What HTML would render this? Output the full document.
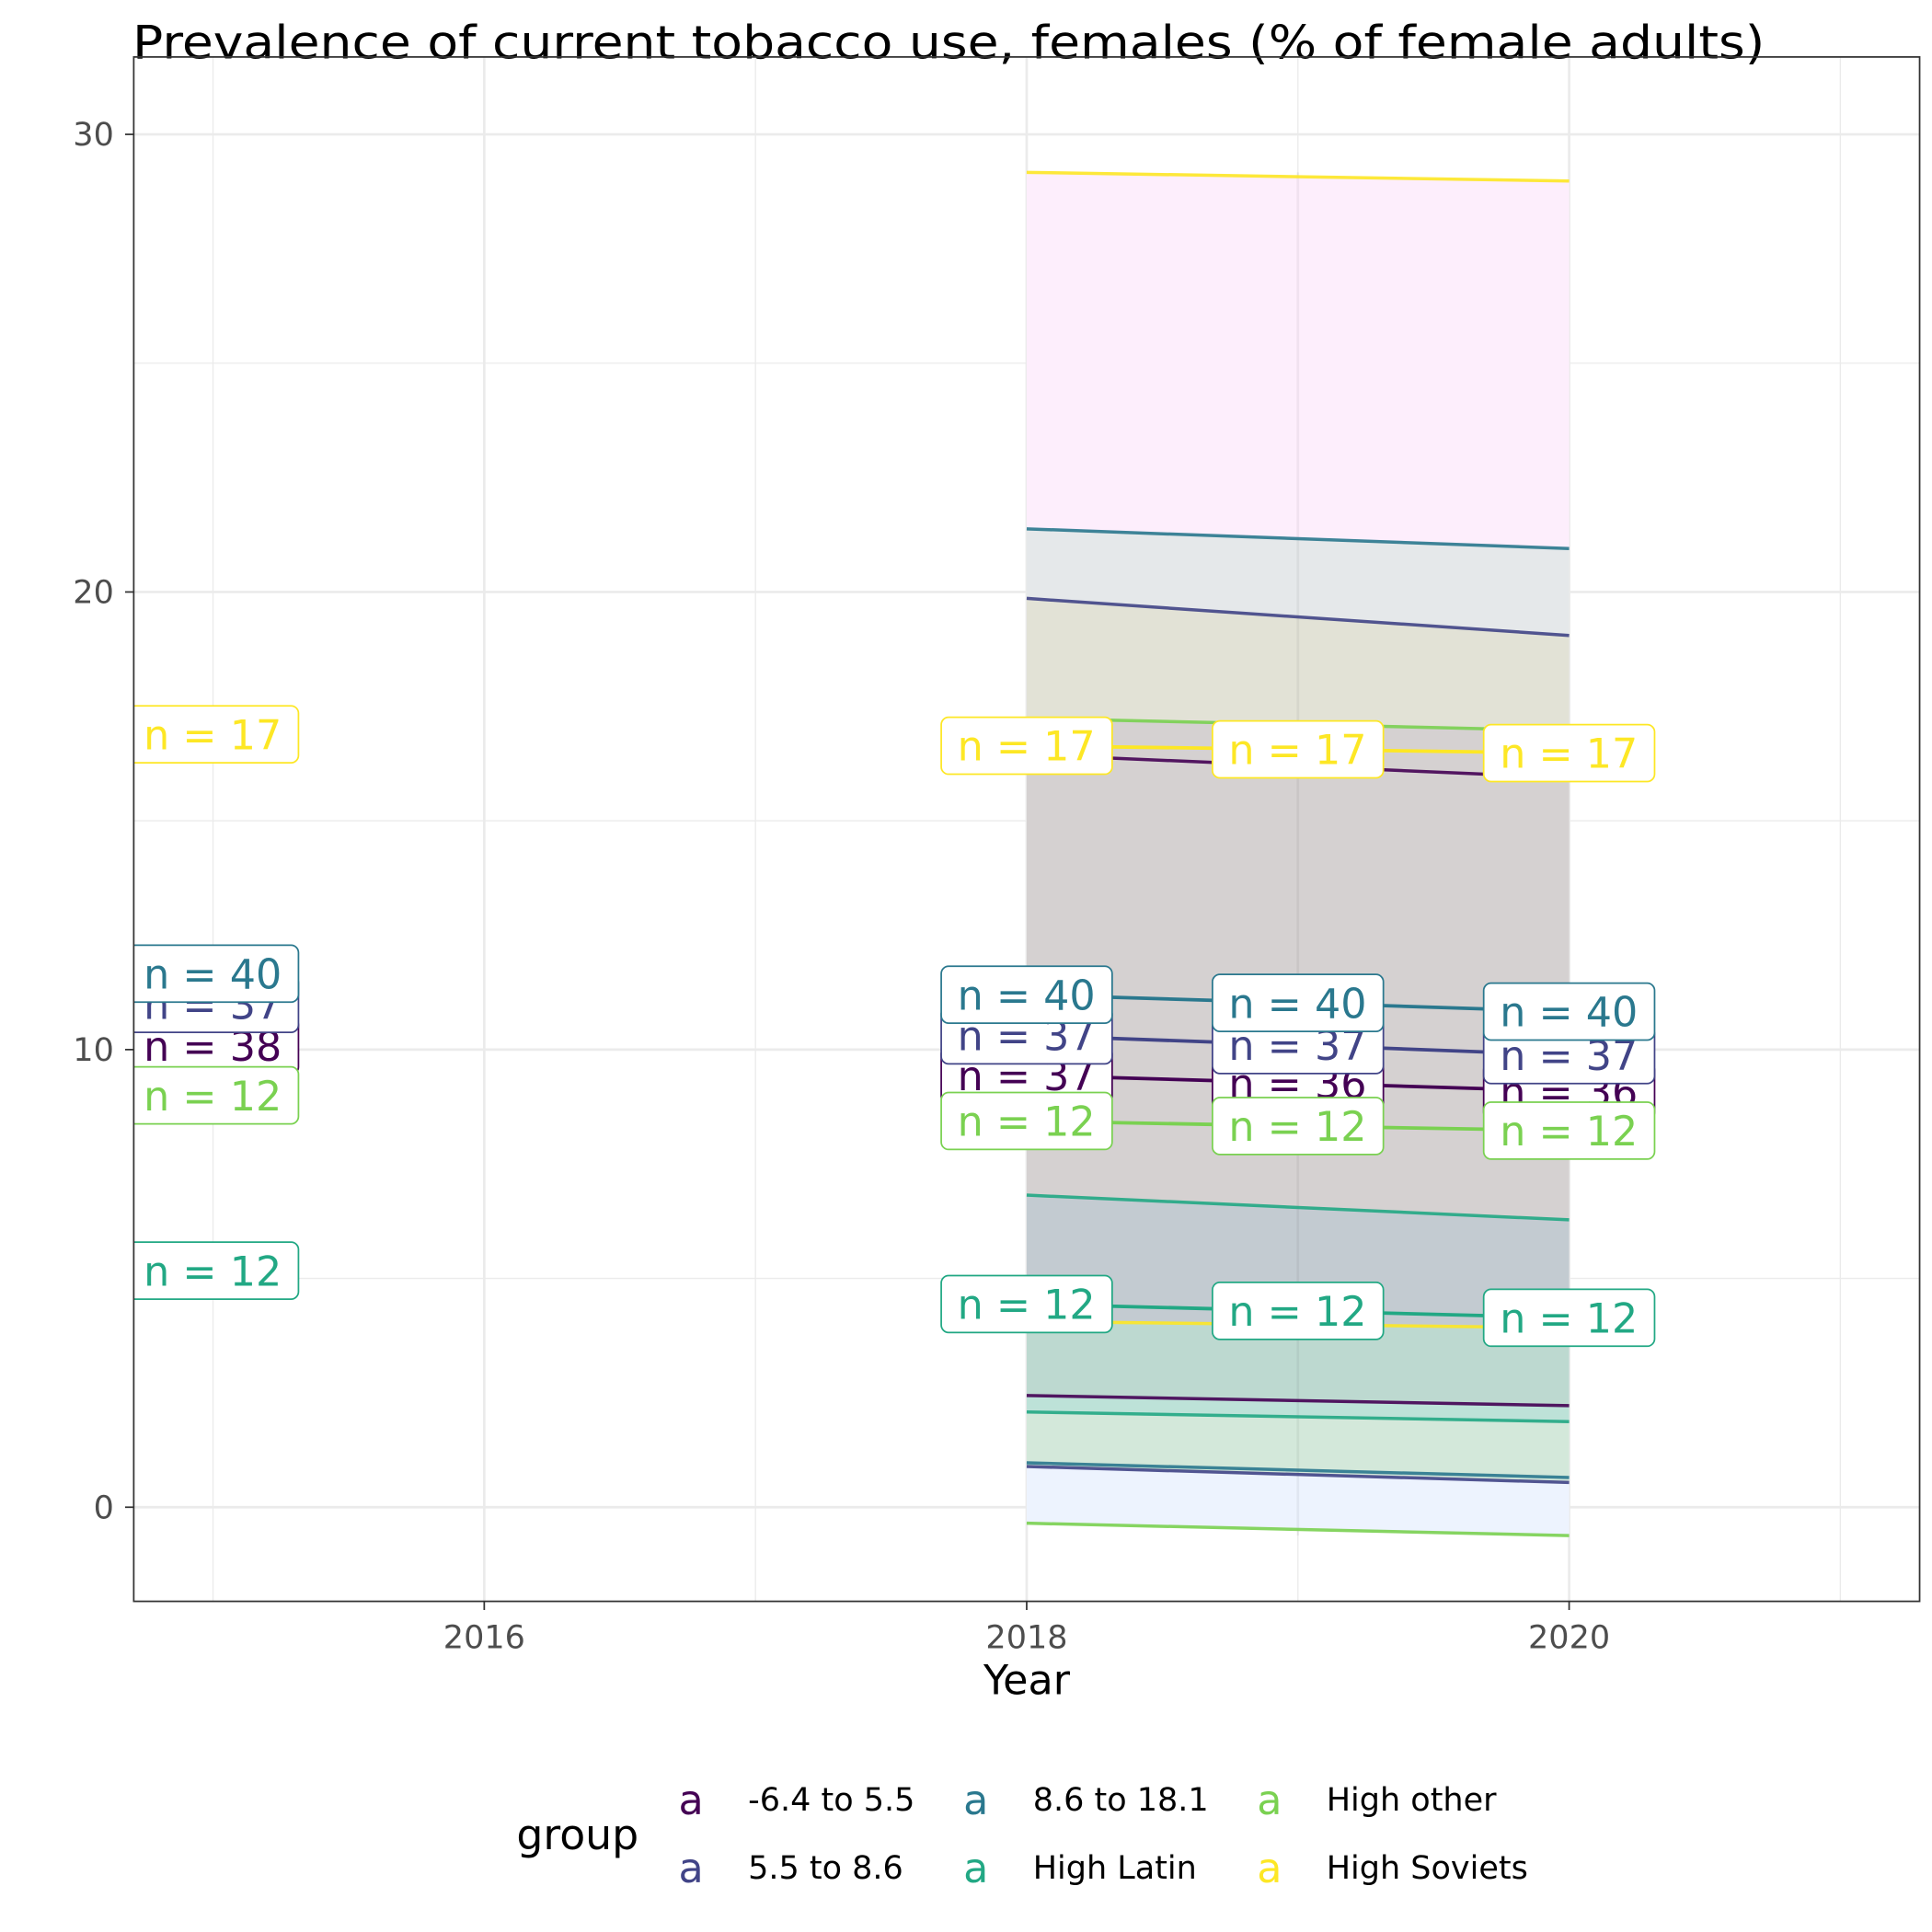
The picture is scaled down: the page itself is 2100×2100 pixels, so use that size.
<!DOCTYPE html>
<html><head><meta charset="utf-8"><style>
html,body{margin:0;padding:0;background:#fff;}
svg{display:block;font-family:"DejaVu Sans","Liberation Sans",sans-serif;}
</style></head><body>
<svg id="chart" width="2100" height="2100" viewBox="0 0 1560 1560" xmlns="http://www.w3.org/2000/svg">
<text x="107" y="47" font-size="37" fill="#000" textLength="1318" lengthAdjust="spacingAndGlyphs">Prevalence of current tobacco use, females (% of female adults)</text>
<defs><clipPath id="pc"><rect x="108" y="46" width="1442" height="1247"/></clipPath></defs>
<g id="grid"></g>
<g id="bands" clip-path="url(#pc)"></g>
<g id="lines" clip-path="url(#pc)"></g>
<g id="labels" clip-path="url(#pc)"></g>
<rect x="108" y="46" width="1442" height="1247" fill="none" stroke="#333" stroke-width="1.3"/>
<g id="axes"></g>
<text x="829" y="1368" font-size="33" text-anchor="middle">Year</text>
<g font-size="26">
<text x="417" y="1493" font-size="34">group</text>
<g><text x="558" y="1465" font-size="33" fill="#440154" text-anchor="middle">a</text><text x="604" y="1462">-6.4 to 5.5</text></g>
<g><text x="558" y="1520" font-size="33" fill="#414487" text-anchor="middle">a</text><text x="604" y="1517">5.5 to 8.6</text></g>
<g><text x="788" y="1465" font-size="33" fill="#2a788e" text-anchor="middle">a</text><text x="834" y="1462">8.6 to 18.1</text></g>
<g><text x="788" y="1520" font-size="33" fill="#22a884" text-anchor="middle">a</text><text x="834" y="1517">High Latin</text></g>
<g><text x="1025" y="1465" font-size="33" fill="#7ad151" text-anchor="middle">a</text><text x="1071" y="1462">High other</text></g>
<g><text x="1025" y="1520" font-size="33" fill="#fde725" text-anchor="middle">a</text><text x="1071" y="1517">High Soviets</text></g>
</g>
</svg>
<script>
const xTicks=[2016,2018,2020];
const xMinor=[2015,2017,2019,2021];
const yTicks=[0,10,20,30];
const yMinor=[5,15,25];
const groups=["-6.4 to 5.5","5.5 to 8.6","8.6 to 18.1","High Latin","High other","High Soviets"];
const colors=["#440154","#414487","#2a788e","#22a884","#7ad151","#fde725"];
const counts=["37","37","40","12","12","17"];
const countsLate=["36","37","40","12","12","17"];
const countsLeft=["38","37","40","12","12","17"];
const years=[2018,2019,2020];
const mainVals=[[9.44,9.27,9.09],[10.31,10.1,9.88],[11.2,11.02,10.83],[4.44,4.29,4.14],[8.44,8.33,8.23],[16.64,16.56,16.48]];
const leftVals=[10.08,11.0,11.66,5.17,9.0,16.89];
const extraStart=[29.17,21.38,19.86,17.24,16.45,6.82,4.06,2.44,2.08,0.97,0.89,-0.35];
const extraEnd=[28.98,20.95,19.05,16.97,15.94,6.28,3.92,2.22,1.87,0.65,0.54,-0.62];
const extraGroup=[5,2,1,4,0,3,5,0,3,2,1,4];
const bandFills=["#fdeefc","#e5e8ea","#e2e2d6","#d5d1d1","#d5d1d1","#c3cbd1","#bdd9d0","#bde2d8","#d3e8da","#d3e8da","#edf3fe"];
const X=v=>829+(v-2018)*219, Y=v=>1217-v*36.95;
const NS="http://www.w3.org/2000/svg";
function mk(tag,parent,attrs){const e=document.createElementNS(NS,tag);for(const k in attrs)e.setAttribute(k,attrs[k]);parent.appendChild(e);return e;}
const grid=document.getElementById('grid'),axes=document.getElementById('axes');
xMinor.forEach(v=>{const l=mk('line',grid,{x1:X(v),x2:X(v),y1:46,y2:1293,stroke:'#ebebeb','stroke-width':1});
});
yMinor.forEach(v=>{const l=mk('line',grid,{x1:108,x2:1550,y1:Y(v),y2:Y(v),stroke:'#ebebeb','stroke-width':1});
});
xTicks.forEach(v=>{const l=mk('line',grid,{x1:X(v),x2:X(v),y1:46,y2:1293,stroke:'#ebebeb','stroke-width':2});

const t=mk('line',axes,{x1:X(v),x2:X(v),y1:1293,y2:1300,stroke:'#333','stroke-width':1.3});

const tx=mk('text',axes,{x:X(v),y:1331,'font-size':26,fill:'#4d4d4d','text-anchor':'middle'});tx.textContent=v;
});
yTicks.forEach(v=>{const l=mk('line',grid,{x1:108,x2:1550,y1:Y(v),y2:Y(v),stroke:'#ebebeb','stroke-width':2});

const t=mk('line',axes,{x1:101,x2:108,y1:Y(v),y2:Y(v),stroke:'#333','stroke-width':1.3});

const tx=mk('text',axes,{x:92,y:Y(v)+9,'font-size':26,fill:'#4d4d4d','text-anchor':'end'});tx.textContent=v;
});
const bands=document.getElementById('bands');
for(let i=0;i<extraStart.length-1;i++){
 const p=mk('polygon',bands,{points:`${X(2018)},${Y(extraStart[i])} ${X(2020)},${Y(extraEnd[i])} ${X(2020)},${Y(extraEnd[i+1])} ${X(2018)},${Y(extraStart[i+1])}`,fill:bandFills[i]});
 }
const vb=mk('line',bands,{x1:X(2019),x2:X(2019),y1:Y(extraStart[0]),y2:Y(extraEnd[extraEnd.length-1]),stroke:'rgba(0,0,0,0.05)','stroke-width':2});

const lines=document.getElementById('lines');
extraStart.forEach((s,i)=>{const l=mk('line',lines,{x1:X(2018),y1:Y(s),x2:X(2020),y2:Y(extraEnd[i]),stroke:colors[extraGroup[i]],'stroke-width':2.6,opacity:0.9});
});
mainVals.forEach((vals,g)=>{const l=mk('polyline',lines,{points:vals.map((v,j)=>X(years[j])+','+Y(v)).join(' '),fill:'none',stroke:colors[g],'stroke-width':2.8});
});
const labels=document.getElementById('labels');
function label(cx,v,g,txt){
 const gg=mk('g',labels,{});
 
 mk('rect',gg,{x:cx-69,y:Y(v)-23,width:138,height:46,rx:6,fill:'#fff',stroke:colors[g],'stroke-width':1.3});
 const t=mk('text',gg,{x:cx-56,y:Y(v)+12,'font-size':33,fill:colors[g]});t.textContent='n = '+txt;}
groups.forEach((n,g)=>label(172,leftVals[g],g,countsLeft[g]));
years.forEach((yr,j)=>groups.forEach((n,g)=>label(X(yr),mainVals[g][j],g,j===0?counts[g]:countsLate[g])));
</script>
</body></html>
